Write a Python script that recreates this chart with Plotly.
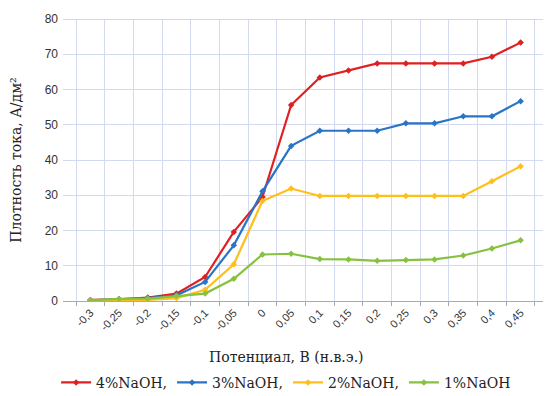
import plotly.graph_objects as go

potential = ["-0,3", "-0,25", "-0,2", "-0,15", "-0,1", "-0,05", "0", "0,05",
             "0,1", "0,15", "0,2", "0,25", "0,3", "0,35", "0,4", "0,45"]

naoh_4 = [0.3, 0.5, 1.0, 2.1, 6.8, 19.6, 29.5, 55.6, 63.4, 65.4, 67.4, 67.4, 67.4, 67.4, 69.3, 73.3]
naoh_3 = [0.2, 0.5, 0.8, 1.6, 5.4, 15.8, 31.1, 44.0, 48.3, 48.3, 48.3, 50.4, 50.4, 52.4, 52.4, 56.7]
naoh_2 = [0.2, 0.2, 0.3, 0.8, 3.2, 10.4, 28.4, 31.9, 29.8, 29.8, 29.8, 29.8, 29.8, 29.8, 34.0, 38.2]
naoh_1 = [0.2, 0.6, 0.7, 1.5, 2.1, 6.3, 13.2, 13.4, 11.9, 11.8, 11.4, 11.6, 11.8, 12.9, 14.9, 17.2]

series = [
    ("4%NaOH,", naoh_4, "#e02020"),
    ("3%NaOH,", naoh_3, "#2a74c8"),
    ("2%NaOH,", naoh_2, "#ffbf1a"),
    ("1%NaOH", naoh_1, "#86c240"),
]

x_title = "Потенциал, В (н.в.э.)"
y_title = "Плотность тока, А/дм²"

serif = "DejaVu Serif, Liberation Serif, serif"
sans = "Liberation Sans, Arial, sans-serif"

fig = go.Figure()
for name, vals, color in series:
    fig.add_trace(go.Scatter(
        x=potential, y=vals, name=name, mode="lines+markers",
        line=dict(color=color, width=2.2),
        marker=dict(color=color, size=5, symbol="diamond"),
    ))

fig.update_layout(
    width=551, height=396,
    margin=dict(l=55, r=11, t=11, b=103, autoexpand=False),
    paper_bgcolor="white", plot_bgcolor="white",
    showlegend=True,
    legend=dict(orientation="h", x=0.46, xanchor="center", y=-0.29, yanchor="middle",
                font=dict(family=serif, size=14, color="#222"),
                itemwidth=30, tracegroupgap=0, traceorder="normal"),
    xaxis=dict(
        type="category", tickson="boundaries", ticks="outside", ticklen=4,
        tickcolor="#aaaaaa", tickangle=-45, automargin=False,
        showgrid=True, gridcolor="#d3d9ef", gridwidth=1,
        showline=True, linecolor="#aaaaaa", linewidth=1,
        tickfont=dict(family=sans, size=11, color="#333"),
    ),
    yaxis=dict(
        range=[0, 80], dtick=10, showgrid=True, gridcolor="#d3d9ef", gridwidth=1,
        zeroline=False, ticks="", tickfont=dict(family=sans, size=12, color="#333"),
        ticklabelstandoff=4, automargin=False,
        title=dict(text=y_title, font=dict(family=serif, size=14, color="#222"),
                   standoff=20),
        mirror=False,
    ),
    annotations=[dict(text=x_title, xref="paper", yref="paper", x=0.46, y=-0.2,
                      xanchor="center", yanchor="middle", showarrow=False,
                      font=dict(family=serif, size=14, color="#222"))],
)
fig.add_shape(type="line", xref="paper", yref="y", x0=0, x1=1, y0=80, y1=80,
              line=dict(color="#c2cbea", width=1.5))
fig.add_shape(type="line", xref="paper", yref="paper", x0=1, x1=1, y0=0, y1=1,
              line=dict(color="#c2cbea", width=1.5))

fig.write_html("out.html")
